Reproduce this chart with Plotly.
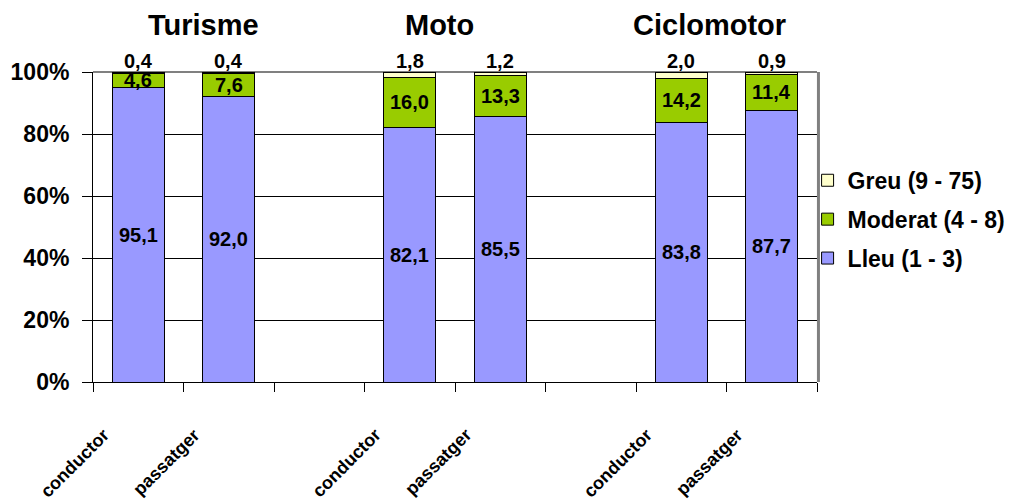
import plotly.graph_objects as go

# Vehicle groups and the two occupant roles within each group
groups = ["Turisme", "Moto", "Ciclomotor"]
roles = ["conductor", "passatger"]

# Injury severity shares (%) per bar, in order: group x role
lleu = [95.1, 92.0, 82.1, 85.5, 83.8, 87.7]
moderat = [4.6, 7.6, 16.0, 13.3, 14.2, 11.4]
greu = [0.4, 0.4, 1.8, 1.2, 2.0, 0.9]

series_names = ["Lleu (1 - 3)", "Moderat (4 - 8)", "Greu (9 - 75)"]
series_colors = ["#9999FF", "#99CC00", "#FFFFCC"]

y_ticks = [0, 20, 40, 60, 80, 100]

FONT = "Arial, Liberation Sans, sans-serif"

# Each group takes two slots followed by an empty slot
xpos = []
xlab = []
for g, _ in enumerate(groups):
    for r, role in enumerate(roles):
        xpos.append(g * 3 + r)
        xlab.append(role)
n_slots = len(groups) * 3 - 1

fig = go.Figure()
all_series = [lleu, moderat, greu]
for k, (vals, name, color) in enumerate(zip(all_series, series_names, series_colors)):
    fig.add_trace(go.Bar(
        x=xpos, y=vals, name=f"<b>{name}</b>", width=0.57,
        marker=dict(color=color, line=dict(color="black", width=1)),
        legendgroup=name, legendrank=len(all_series) - k, hoverinfo="skip",
    ))

def fmt(v):
    return f"{v:.1f}".replace(".", ",")

annotations = []
# Value labels: centred in the lower two segments, just above the stack for Greu
for i, x in enumerate(xpos):
    total = lleu[i] + moderat[i] + greu[i]
    a = lleu[i] / total * 100
    b = moderat[i] / total * 100
    annotations.append(dict(x=x, y=a / 2, text=f"<b>{fmt(lleu[i])}</b>",
                            showarrow=False, font=dict(size=20, color="black", family=FONT)))
    annotations.append(dict(x=x, y=a + b / 2, text=f"<b>{fmt(moderat[i])}</b>",
                            showarrow=False, font=dict(size=20, color="black", family=FONT)))
    annotations.append(dict(x=x, y=100, yanchor="bottom", yshift=-2,
                            text=f"<b>{fmt(greu[i])}</b>",
                            showarrow=False, font=dict(size=20, color="black", family=FONT)))

# Rotated category labels under the axis
for x, lab in zip(xpos, xlab):
    annotations.append(dict(x=x, xref="x", y=-0.13, yref="paper", text=f"<b>{lab}</b>",
                            textangle=-45, xanchor="right", yanchor="top", xshift=-22,
                            showarrow=False, font=dict(size=18, color="black", family=FONT)))

# Group headings
for name, px in zip(groups, [0.152, 0.479, 0.851]):
    annotations.append(dict(x=px, xref="paper", y=1.152, yref="paper", text=f"<b>{name}</b>",
                            xanchor="center", yanchor="middle", showarrow=False,
                            font=dict(size=29, color="black", family=FONT)))

shapes = [
    dict(type="line", xref="paper", yref="paper", x0=0, x1=1, y0=1, y1=1,
         line=dict(color="#808080", width=2), layer="between"),
    dict(type="line", xref="paper", yref="paper", x0=1.002, x1=1.002, y0=0, y1=1,
         line=dict(color="#808080", width=3), layer="above"),
]

fig.update_layout(
    width=1015, height=502,
    margin=dict(l=93, r=198, t=72, b=120, autoexpand=False),
    paper_bgcolor="white", plot_bgcolor="white",
    barmode="stack", barnorm="percent",
    showlegend=True,
    legend=dict(x=0.987, y=0.72, xanchor="left", yanchor="top",
                traceorder="grouped", tracegroupgap=6,
                font=dict(size=23, color="black", family=FONT),
                itemwidth=30, bgcolor="rgba(0,0,0,0)"),
    font=dict(family=FONT, color="black"),
    annotations=annotations,
    shapes=shapes,
    xaxis=dict(range=[-0.5, n_slots - 0.5], tickmode="array",
               tickvals=[i - 0.5 for i in range(n_slots + 1)],
               showticklabels=False, ticks="outside", ticklen=9, tickcolor="black",
               showgrid=False, showline=True, linecolor="black", linewidth=1,
               zeroline=False, fixedrange=True),
    yaxis=dict(range=[0, 100], tickmode="array", tickvals=y_ticks,
               ticktext=[f"<b>{t}%</b>" for t in y_ticks],
               tickfont=dict(size=23, color="black", family=FONT),
               ticks="outside", ticklen=10, tickcolor="black", ticklabelstandoff=8,
               showgrid=True, gridcolor="black", gridwidth=1,
               showline=True, linecolor="black", linewidth=1,
               zeroline=False),
)

fig.write_html("out.html")
